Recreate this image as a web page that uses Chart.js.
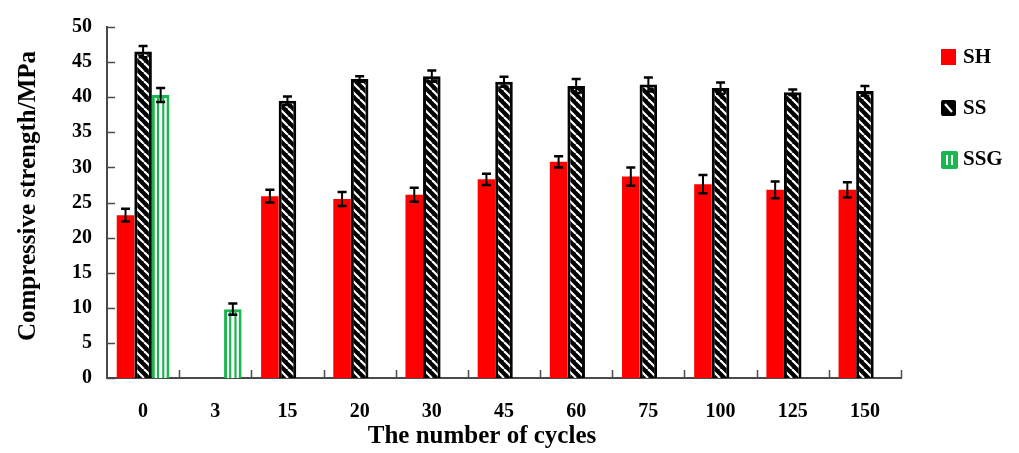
<!DOCTYPE html>
<html>
<head>
<meta charset="utf-8">
<script src="https://cdn.jsdelivr.net/npm/chart.js@4/dist/chart.umd.min.js"></script>
<style>
  html, body { margin: 0; padding: 0; background: #fff; }
  #grafica { display: block; }
</style>
</head>
<body>
<canvas id="grafica" width="1019" height="453"></canvas>
<script>
const CICLOS = ['0', '3', '15', '20', '30', '45', '60', '75', '100', '125', '150'];
const SERIES = ['SH', 'SS', 'SSG'];

// resistencia media (MPa) y desviacion de cada serie
const SH = [23.2, null, 25.9, 25.5, 26.1, 28.3, 30.8, 28.7, 27.6, 26.8, 26.8];
const SH_ERR = [0.9, null, 0.9, 1.0, 1.0, 0.8, 0.8, 1.3, 1.3, 1.2, 1.1];
const SS = [46.5, null, 39.5, 42.6, 43.0, 42.2, 41.6, 41.8, 41.3, 40.7, 40.9];
const SS_ERR = [0.8, null, 0.6, 0.4, 0.8, 0.7, 1.0, 1.0, 0.8, 0.4, 0.7];
const SSG = [40.3, 9.8, null, null, null, null, null, null, null, null, null];
const SSG_ERR = [1.0, 0.8, null, null, null, null, null, null, null, null, null];

const Y_TICKS = [0, 5, 10, 15, 20, 25, 30, 35, 40, 45, 50];
const TITULO_Y = 'Compressive strength/MPa';
const TITULO_X = 'The number of cycles';

const ROJO = '#ff0000';
const VERDE = '#1db550';
const EJE = '#4a4a4a';
const FUENTE = '"Liberation Serif", "Times New Roman", serif';

// relleno negro con rayas blancas en diagonal
function rayado() {
    const c = document.createElement('canvas');
    c.width = 9;
    c.height = 9;
    const g = c.getContext('2d');
    g.fillStyle = '#000';
    g.fillRect(0, 0, 9, 9);
    g.strokeStyle = '#fff';
    g.lineWidth = 2.2;
    [-9, 0, 9].forEach(k => {
        g.beginPath();
        g.moveTo(k, 0);
        g.lineTo(k + 9, 9);
        g.stroke();
    });
    return g.createPattern(c, 'repeat');
}

const ERRORES = [SH_ERR, SS_ERR, SSG_ERR];

const extras = {
    id: 'extras',
    afterDatasetsDraw(chart) {
        const ctx = chart.ctx;
        const ys = chart.scales.y;
        ctx.save();

        // lineas verticales dentro de las barras SSG
        ctx.strokeStyle = VERDE;
        ctx.lineWidth = 2.2;
        chart.getDatasetMeta(2).data.forEach((bar, i) => {
            if (SSG[i] == null) return;
            const d = bar.width * 0.15;
            [bar.x - d, bar.x + d].forEach(x => {
                ctx.beginPath();
                ctx.moveTo(x, bar.y + 2);
                ctx.lineTo(x, bar.base);
                ctx.stroke();
            });
        });

        // barras de error
        ctx.strokeStyle = '#000';
        ERRORES.forEach((err, d) => {
            const vals = chart.data.datasets[d].data;
            chart.getDatasetMeta(d).data.forEach((bar, i) => {
                if (vals[i] == null || err[i] == null) return;
                const y1 = ys.getPixelForValue(vals[i] + err[i]);
                const y2 = ys.getPixelForValue(vals[i] - err[i]);
                ctx.lineWidth = 2;
                ctx.beginPath();
                ctx.moveTo(bar.x, y1);
                ctx.lineTo(bar.x, y2);
                ctx.stroke();
                ctx.lineWidth = 2.5;
                ctx.beginPath();
                ctx.moveTo(bar.x - 4.5, y1);
                ctx.lineTo(bar.x + 4.5, y1);
                ctx.moveTo(bar.x - 4.5, y2);
                ctx.lineTo(bar.x + 4.5, y2);
                ctx.stroke();
            });
        });
        ctx.restore();
    },
    afterDraw(chart) {
        const ctx = chart.ctx;
        const xs = chart.scales.x;
        const ys = chart.scales.y;
        const area = chart.chartArea;
        ctx.save();

        // marcas hacia dentro en ambos ejes
        ctx.strokeStyle = EJE;
        ctx.lineWidth = 1.5;
        Y_TICKS.forEach(v => {
            const y = Math.round(ys.getPixelForValue(v)) + 0.5;
            ctx.beginPath();
            ctx.moveTo(area.left, y);
            ctx.lineTo(area.left + 8, y);
            ctx.stroke();
        });
        const paso = (xs.right - xs.left) / CICLOS.length;
        for (let i = 1; i <= CICLOS.length; i++) {
            const x = Math.round(xs.left + paso * i) + 0.5;
            ctx.beginPath();
            ctx.moveTo(x, area.bottom);
            ctx.lineTo(x, area.bottom - 8);
            ctx.stroke();
        }

        // titulos de los ejes
        ctx.fillStyle = '#000';
        ctx.textAlign = 'center';
        ctx.textBaseline = 'middle';
        ctx.font = 'bold 25px ' + FUENTE;
        ctx.fillText(TITULO_X, 482, 437);
        ctx.translate(29, 196);
        ctx.rotate(-Math.PI / 2);
        ctx.fillText(TITULO_Y, 0, 0);
        ctx.setTransform(1, 0, 0, 1, 0, 0);

        // leyenda a la derecha
        const lx = area.right + 40;
        const filas = [57, 108, 159];
        ctx.font = 'bold 21px ' + FUENTE;
        ctx.textAlign = 'left';
        SERIES.forEach((nombre, i) => {
            const cy = filas[i];
            const bx = lx, by = cy - 8, bw = 15, bh = 16;
            if (i === 0) {
                ctx.fillStyle = ROJO;
                ctx.fillRect(bx, by, bw, bh);
            } else if (i === 1) {
                ctx.fillStyle = '#000';
                ctx.beginPath();
                ctx.roundRect(bx, by, bw, bh, 2);
                ctx.fill();
                ctx.strokeStyle = '#fff';
                ctx.lineWidth = 2.2;
                ctx.beginPath();
                ctx.moveTo(bx + 4, by + 4);
                ctx.lineTo(bx + 11, by + 12);
                ctx.stroke();
            } else {
                ctx.fillStyle = VERDE;
                ctx.beginPath();
                ctx.roundRect(bx, by, bw + 2, bh + 2, 2);
                ctx.fill();
                ctx.fillStyle = '#fff';
                ctx.fillRect(bx + 5, by + 4, 2, bh - 6);
                ctx.fillRect(bx + 10, by + 4, 2, bh - 6);
            }
            ctx.fillStyle = '#000';
            ctx.fillText(nombre, lx + 22, cy + 1);
        });
        ctx.restore();
    }
};

const ctx = document.getElementById('grafica').getContext('2d');
const grafica = new Chart(ctx, {
    type: 'bar',
    data: {
        labels: CICLOS,
        datasets: [{
            label: SERIES[0],
            data: SH,
            backgroundColor: ROJO,
            borderWidth: 0
        }, {
            label: SERIES[1],
            data: SS,
            backgroundColor: rayado(),
            borderColor: '#000',
            borderWidth: 3
        }, {
            label: SERIES[2],
            data: SSG,
            backgroundColor: '#fff',
            borderColor: VERDE,
            borderWidth: 3
        }]
    },
    options: {
        responsive: false,
        animation: false,
        devicePixelRatio: 1,
        categoryPercentage: 0.73,
        barPercentage: 1.0,
        layout: {
            padding: { top: 21, right: 118, left: 0, bottom: 0 }
        },
        plugins: {
            legend: { display: false },
            tooltip: { enabled: false }
        },
        scales: {
            x: {
                offset: true,
                grid: { display: false, drawTicks: false },
                border: { display: true, color: EJE, width: 2 },
                ticks: {
                    color: '#000',
                    padding: 22,
                    font: { family: FUENTE, size: 20, weight: 'bold' }
                },
                afterFit: s => { s.height = 75; }
            },
            y: {
                min: 0,
                max: 50,
                grid: { display: false, drawTicks: false },
                border: { display: true, color: EJE, width: 2 },
                afterBuildTicks: s => { s.ticks = Y_TICKS.map(v => ({ value: v })); },
                ticks: {
                    color: '#000',
                    padding: 15,
                    font: { family: FUENTE, size: 20, weight: 'bold' }
                },
                afterFit: s => { s.width = 107; }
            }
        }
    },
    plugins: [extras]
});
</script>
</body>
</html>
